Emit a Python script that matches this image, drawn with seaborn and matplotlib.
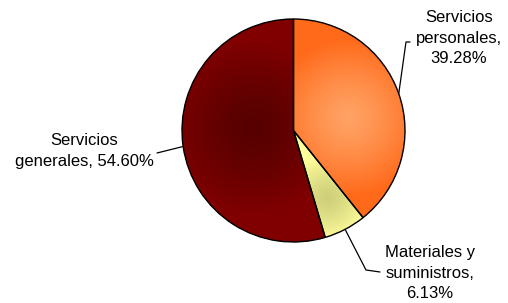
import numpy as np
import matplotlib
matplotlib.use("Agg")
import matplotlib.pyplot as plt
import seaborn as sns
from matplotlib.colors import to_rgb

# -------------------------------
# Data
# -------------------------------
categories = ["Servicios personales", "Materiales y suministros", "Servicios generales"]
shares = [39.28, 6.13, 54.60]
label_texts = [
    "Servicios\npersonales,\n39.28%",
    "Materiales y\nsuministros,\n6.13%",
    "Servicios\ngenerales, 54.60%",
]

# outer / inner colours of each slice (radial shading like the original)
edge_colors = ["#FF6A1A", "#FFFF9C", "#800000"]
center_colors = ["#FFA264", "#CFCF7B", "#560000"]

# -------------------------------
# Layout (pixels of the 508x303 picture)
# -------------------------------
W, H, DPI = 508, 303, 100
CX, CY, RPX = 293.5, 130.5, 111.5


def px(x, y):
    # pixel position -> data coords (pie radius = 1)
    return (x - CX) / RPX, (CY - y) / RPX


grad_centers = [px(348, 118), px(327, 198), px(253, 128)]
grad_radii = [0.70, 0.38, 0.78]

# label block centres and leader bend/end points, in pixels
label_pos = [(459, 38), (430, 273), (84, 151)]
leader_pts = [
    [(406, 42), (410, 42)],
    [(366, 270), (380, 272)],
    [(157, 153)],
]

sns.set_theme(style="white")
plt.rcParams["font.family"] = ["Liberation Sans", "DejaVu Sans"]

fig = plt.figure(figsize=(W / DPI, H / DPI), dpi=DPI)
fig.patch.set_facecolor("white")
ax = fig.add_axes([0, 0, 1, 1])

wedges, _ = ax.pie(shares, startangle=90, counterclock=False,
                   colors=edge_colors, wedgeprops=dict(linewidth=0))

# radial gradient fill, clipped to each wedge
g = np.linspace(-1.02, 1.02, 500)
X, Y = np.meshgrid(g, g)
for w, c0, c1, (gx, gy), rr in zip(wedges, center_colors, edge_colors,
                                   grad_centers, grad_radii):
    t = np.clip(np.hypot(X - gx, Y - gy) / rr, 0, 1) ** 1.3
    a = np.array(to_rgb(c0))
    b = np.array(to_rgb(c1))
    img = a + (b - a) * t[..., None]
    im = ax.imshow(img, extent=(-1.02, 1.02, -1.02, 1.02), origin="lower",
                   interpolation="bilinear", zorder=2)
    im.set_clip_path(w)

# outlines on top
ax.pie(shares, startangle=90, counterclock=False,
       wedgeprops=dict(fill=False, edgecolor="black", linewidth=1.0, zorder=3))

# leader lines + labels
mid = np.deg2rad(90 - 360 * (np.cumsum(shares) - np.array(shares) / 2) / 100)
for ang, pts, txt, (lx, ly) in zip(mid, leader_pts, label_texts, label_pos):
    xs = [np.cos(ang)] + [px(*p)[0] for p in pts]
    ys = [np.sin(ang)] + [px(*p)[1] for p in pts]
    ax.plot(xs, ys, color="black", linewidth=0.9, zorder=4)
    tx, ty = px(lx, ly)
    ax.text(tx, ty, txt, ha="center", va="center", multialignment="center",
            fontsize=12, linespacing=1.45, color="black")

ax.set_xlim(-CX / RPX, (W - CX) / RPX)
ax.set_ylim(-(H - CY) / RPX, CY / RPX)
ax.set_aspect("equal")
ax.axis("off")

fig.savefig("out.png", dpi=DPI)
